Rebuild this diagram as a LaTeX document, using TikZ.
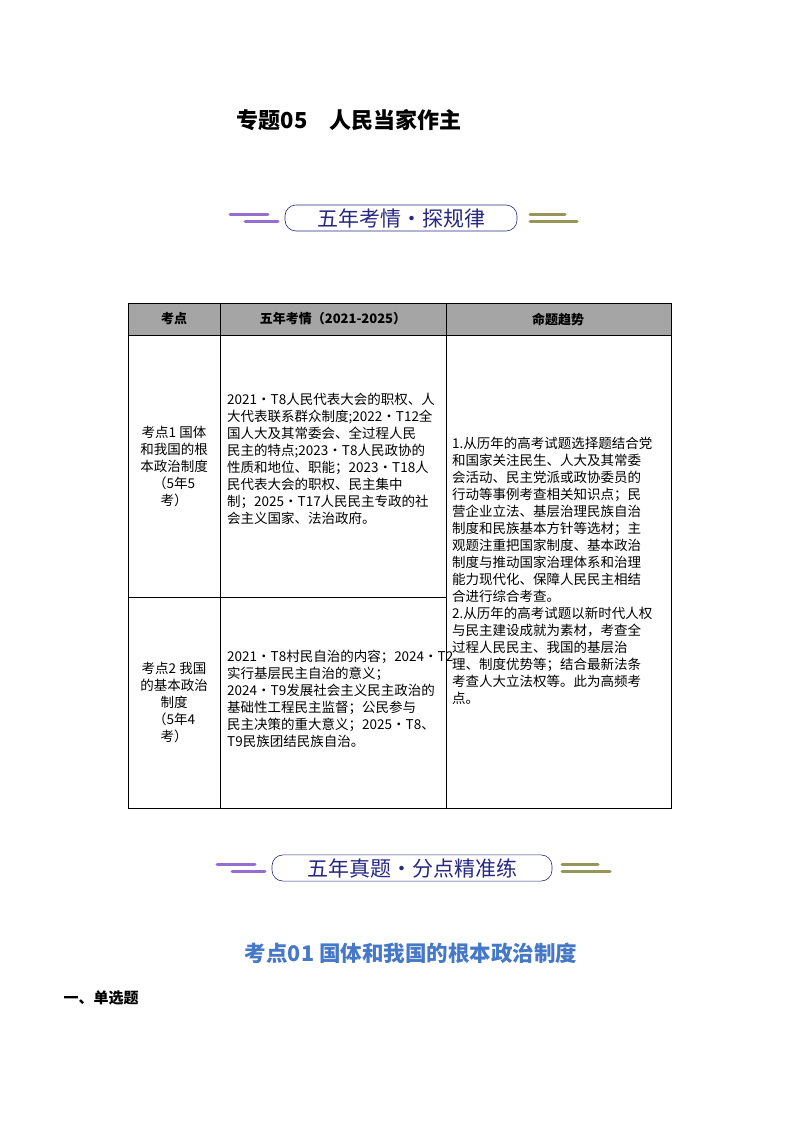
\documentclass[tikz,border=0pt]{standalone}
\usepackage{fontspec}
\setmainfont{Noto Sans CJK SC}
\usetikzlibrary{positioning}
\definecolor{bannerblue}{RGB}{40,40,130}
\definecolor{lilac}{RGB}{150,110,210}
\definecolor{olive}{RGB}{150,150,90}
\definecolor{headgray}{RGB}{165,165,165}
\definecolor{titleblue}{RGB}{70,120,200}
\tikzset{
  pill/.style={draw=bannerblue,semithick,rounded corners=11pt,minimum height=24pt,
               text=bannerblue,font=\fontsize{21}{21}\selectfont,inner xsep=14pt},
  deco/.style={line width=3pt,line cap=round},
  cell/.style={align=left,font=\fontsize{13.5}{17}\selectfont,inner sep=0pt},
  head/.style={font=\bfseries\fontsize{13}{13}\selectfont}
}
\begin{document}
\begin{tikzpicture}[x=1pt,y=-1pt]
\useasboundingbox (0,0) rectangle (800,1132);
\fill[white] (0,0) rectangle (800,1132);
\node[font=\bfseries\fontsize{22}{22}\selectfont] (title) at (349,120) {专题05\quad 人民当家作主};
% banner 1
\node[pill,minimum width=232pt] (ban1) at (401,218) {五年考情·探规律};
\draw[deco,lilac] (230,214) -- (268,214) (245,221) -- (278,221);
\draw[deco,olive] (530,214) -- (565,214) (530,221) -- (577,221);
% table
\fill[headgray] (128,303) rectangle (671,335);
\draw[thick] (128,303) rectangle (671,808);
\draw (128,335) -- (671,335) (128,597) -- (446,597);
\draw (220,303) -- (220,808) (446,303) -- (446,808);
\node[head] (h1) at (174,319) {考点};
\node[head] (h2) at (333,319) {五年考情（2021-2025）};
\node[head] (h3) at (558,319) {命题趋势};
\node[cell,align=center] (k1) at (174,466) {考点1 国体\\和我国的根\\本政治制度\\（5年5\\考）};
\node[cell,align=center] (k2) at (174,702) {考点2 我国\\的基本政治\\制度\\（5年4\\考）};
\node[cell,anchor=north west] (q1) at (227,393) {2021·T8人民代表大会的职权、人\\大代表联系群众制度;2022·T12全\\国人大及其常委会、全过程人民\\民主的特点;2023·T8人民政协的\\性质和地位、职能；2023·T18人\\民代表大会的职权、民主集中\\制；2025·T17人民民主专政的社\\会主义国家、法治政府。};
\node[cell,anchor=north west] (q2) at (227,650) {2021·T8村民自治的内容；2024·T2\\实行基层民主自治的意义；\\2024·T9发展社会主义民主政治的\\基础性工程民主监督；公民参与\\民主决策的重大意义；2025·T8、\\T9民族团结民族自治。};
\node[cell,anchor=north west] (trend) at (452,437) {1.从历年的高考试题选择题结合党\\和国家关注民生、人大及其常委\\会活动、民主党派或政协委员的\\行动等事例考查相关知识点；民\\营企业立法、基层治理民族自治\\制度和民族基本方针等选材；主\\观题注重把国家制度、基本政治\\制度与推动国家治理体系和治理\\能力现代化、保障人民民主相结\\合进行综合考查。\\2.从历年的高考试题以新时代人权\\与民主建设成就为素材，考查全\\过程人民民主、我国的基层治\\理、制度优势等；结合最新法条\\考查人大立法权等。此为高频考\\点。};
% banner 2
\node[pill,minimum width=280pt] (ban2) at (412,868) {五年真题·分点精准练};
\draw[deco,lilac] (217,864) -- (255,864) (232,871) -- (265,871);
\draw[deco,olive] (562,864) -- (598,864) (562,871) -- (610,871);
\node[font=\bfseries\fontsize{21.5}{21.5}\selectfont,text=titleblue] (sec) at (411,953) {考点01 国体和我国的根本政治制度};
\node[font=\bfseries\fontsize{15}{15}\selectfont,anchor=west] (q) at (60,998) {一、单选题};
\end{tikzpicture}
\end{document}
